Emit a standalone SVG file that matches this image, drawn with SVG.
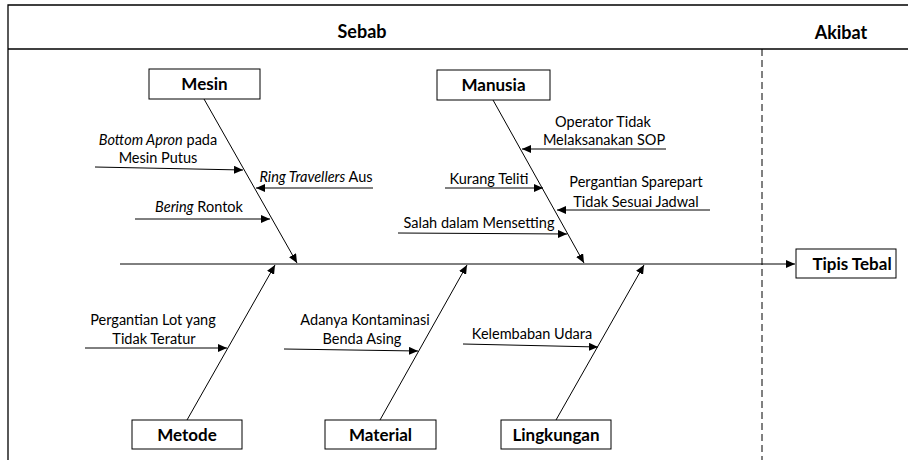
<svg xmlns="http://www.w3.org/2000/svg" width="908" height="460" viewBox="0 0 908 460">
<style>
.ln{stroke:#000;stroke-width:1;fill:none}
.fr{stroke:#000;stroke-width:1.3;fill:none}
.box{fill:#fff;stroke:#000;stroke-width:1}
.t{font-family:Lato,"Liberation Sans",sans-serif;font-size:14.5px;fill:#000;text-anchor:middle}
.h{font-family:Lato,"Liberation Sans",sans-serif;font-size:17px;font-weight:bold;fill:#000;text-anchor:middle}
.hh{font-family:Lato,"Liberation Sans",sans-serif;font-size:18px;font-weight:bold;fill:#000;text-anchor:middle}
.i{font-style:italic}
</style>
<defs>
<marker id="ah" markerWidth="9" markerHeight="8" refX="9" refY="4" orient="auto" markerUnits="userSpaceOnUse"><path d="M0,0 L9,4 L0,8 z" fill="#000"/></marker>
</defs>
<rect width="908" height="460" fill="#fff"/>
<g id="frame">
<path class="fr" d="M8,470 L8,5 L920,5"/>
<path class="fr" d="M8,49 L908,49"/>
<path class="ln" d="M762,49 L762,460" stroke-dasharray="7,4"/>
<text class="hh" x="362" y="38">Sebab</text>
<text class="hh" x="841" y="39">Akibat</text>
</g>
<g id="connectors">
<path class="ln" d="M120,264 L795,264" marker-end="url(#ah)"/>
<path class="ln" d="M204,99 L297,263" marker-end="url(#ah)"/>
<path class="ln" d="M493,100 L584,263" marker-end="url(#ah)"/>
<path class="ln" d="M187,420 L275,265" marker-end="url(#ah)"/>
<path class="ln" d="M380,420 L467,265" marker-end="url(#ah)"/>
<path class="ln" d="M556,420 L644,265" marker-end="url(#ah)"/>
<path class="ln" d="M95,167 L243,170" marker-end="url(#ah)"/>
<path class="ln" d="M373,188 L256,188" marker-end="url(#ah)"/>
<path class="ln" d="M135,219 L270,219" marker-end="url(#ah)"/>
<path class="ln" d="M666,149 L522,149" marker-end="url(#ah)"/>
<path class="ln" d="M445,188 L543,188" marker-end="url(#ah)"/>
<path class="ln" d="M710,210 L557,210" marker-end="url(#ah)"/>
<path class="ln" d="M398,233 L567,234" marker-end="url(#ah)"/>
<path class="ln" d="M85,348 L227,348" marker-end="url(#ah)"/>
<path class="ln" d="M284,349 L418,351" marker-end="url(#ah)"/>
<path class="ln" d="M463,344 L598,347" marker-end="url(#ah)"/>
</g>
<g id="mesin"><rect class="box" x="149" y="69" width="111" height="30"/><text class="h" x="204.5" y="90">Mesin</text></g>
<g id="manusia"><rect class="box" x="437" y="70" width="113" height="30"/><text class="h" x="493.5" y="91">Manusia</text></g>
<g id="metode"><rect class="box" x="132" y="420" width="110" height="29"/><text class="h" x="187" y="441">Metode</text></g>
<g id="material"><rect class="box" x="325" y="420" width="111" height="29"/><text class="h" x="380.5" y="441">Material</text></g>
<g id="lingkungan"><rect class="box" x="501" y="420" width="110" height="29"/><text class="h" x="556" y="441">Lingkungan</text></g>
<g id="tipis-tebal"><rect class="box" x="796" y="249" width="100" height="29"/><text class="h" x="852" y="270">Tipis Tebal</text></g>
<g id="labels">
<text class="t" x="158" y="145"><tspan class="i">Bottom Apron</tspan> pada</text>
<text class="t" x="158" y="163">Mesin Putus</text>
<text class="t" x="316" y="182"><tspan class="i">Ring Travellers</tspan> Aus</text>
<text class="t" x="199" y="212"><tspan class="i">Bering</tspan> Rontok</text>
<text class="t" x="603" y="127">Operator Tidak</text>
<text class="t" x="604" y="145">Melaksanakan SOP</text>
<text class="t" x="489" y="184">Kurang Teliti</text>
<text class="t" x="636" y="187">Pergantian Sparepart</text>
<text class="t" x="636" y="207">Tidak Sesuai Jadwal</text>
<text class="t" x="479" y="228">Salah dalam Mensetting</text>
<text class="t" x="153" y="325">Pergantian Lot yang</text>
<text class="t" x="154" y="344">Tidak Teratur</text>
<text class="t" x="365" y="325">Adanya Kontaminasi</text>
<text class="t" x="362" y="344">Benda Asing</text>
<text class="t" x="532" y="339">Kelembaban Udara</text>
</g>
</svg>
